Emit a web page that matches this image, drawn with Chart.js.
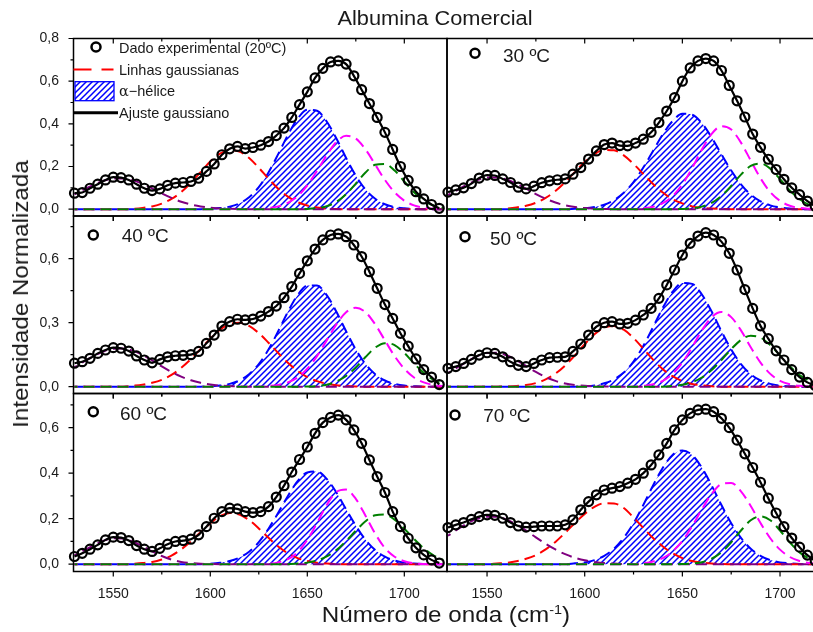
<!DOCTYPE html>
<html>
<head>
<meta charset="utf-8">
<script src="https://cdn.jsdelivr.net/npm/chart.js@4.4.1/dist/chart.umd.min.js"></script>
<style>
  html, body { margin: 0; padding: 0; background: #fff; overflow: hidden; }
  #fig { position: relative; width: 813px; height: 632px; overflow: hidden;
         font-family: 'Liberation Sans', Arial, sans-serif; color: #1a1a1a; }
  #fig canvas { position: absolute; left: 0; top: 0; }
  .txt { position: absolute; white-space: nowrap; line-height: 1; }
  .leg { font-size: 14.5px; transform: translateY(-50%); }
  .temp { font-size: 19px; transform: translateY(-50%); }
  .greek { font-family: 'DejaVu Serif', 'Liberation Serif', serif; }
  .sup { font-size: 0.6em; position: relative; top: -0.6em; }
</style>
</head>
<body>
<div id="fig">
  <canvas id="c20" width="830" height="632"></canvas>
  <canvas id="c30" width="830" height="632"></canvas>
  <canvas id="c40" width="830" height="632"></canvas>
  <canvas id="c50" width="830" height="632"></canvas>
  <canvas id="c60" width="830" height="632"></canvas>
  <canvas id="c70" width="830" height="632"></canvas>

  <div class="txt" style="left:434.5px; top:18px; font-size:20px; transform:translate(-50%,-50%) scaleX(1.09);">Albumina Comercial</div>
  <div class="txt" style="left:21px; top:294px; font-size:22px; transform:translate(-50%,-50%) rotate(-90deg) scaleX(1.1);">Intensidade Normalizada</div>
  <div class="txt" style="left:446px; top:615px; font-size:22px; transform:translate(-50%,-50%) scaleX(1.1);">Número de onda (cm<span class="sup">-1</span>)</div>

  <div class="txt leg" style="left:119px; top:48px;">Dado experimental (20ºC)</div>
  <div class="txt leg" style="left:119px; top:69.5px;">Linhas gaussianas</div>
  <div class="txt leg" style="left:119px; top:91px;"><span class="greek">α</span>−hélice</div>
  <div class="txt leg" style="left:119px; top:113px;">Ajuste gaussiano</div>

  <div class="txt temp" style="left:503px; top:55px;">30 ºC</div>
  <div class="txt temp" style="left:121.7px; top:235px;">40 ºC</div>
  <div class="txt temp" style="left:490px; top:238px;">50 ºC</div>
  <div class="txt temp" style="left:120px; top:412.7px;">60 ºC</div>
  <div class="txt temp" style="left:483.3px; top:415px;">70 ºC</div>
</div>

<script>
// wavenumber grid of the measured spectra (cm-1)
const expX = [1530,1534,1538,1542,1546,1550,1554,1558,1562,1566,1570,1574,1578,1582,1586,1590,
  1594,1598,1602,1606,1610,1614,1618,1622,1626,1630,1634,1638,1642,1646,1650,1654,1658,1662,
  1666,1670,1674,1678,1682,1686,1690,1694,1698,1702,1706,1710,1714,1718];

// wavenumber grid of the fitted gaussian bands
const compX = [1530,1535,1540,1545,1550,1555,1560,1565,1570,1575,1580,1585,1590,
  1595,1600,1605,1610,1615,1620,1625,1630,1635,1640,1645,1650,1655,
  1660,1665,1670,1675,1680,1685,1690,1695,1700,1705,1710,1715,1720];

const xTicks = [1550, 1600, 1650, 1700];
const xMinorTicks = [1575, 1625, 1675];
const yTicksTop = [0, 0.2, 0.4, 0.6, 0.8];
const yMinorTop = [0.1, 0.3, 0.5, 0.7];
const yTicksMid = [0, 0.3, 0.6];
const yMinorMid = [0.15, 0.45, 0.75];
const yTicksBot = [0, 0.2, 0.4, 0.6];
const yMinorBot = [0.1, 0.3, 0.5, 0.7];

// ---- 20 ºC ----
const p20Exp = [0.075,0.078,0.098,0.117,0.137,0.150,0.148,0.137,0.117,0.098,
  0.087,0.095,0.112,0.122,0.125,0.130,0.145,0.177,0.212,0.255,
  0.283,0.294,0.284,0.289,0.300,0.317,0.345,0.380,0.430,0.490,
  0.550,0.615,0.660,0.690,0.695,0.680,0.625,0.560,0.495,0.430,
  0.360,0.280,0.200,0.135,0.082,0.048,0.022,0.004];
const p20Purple = [0.070,0.093,0.115,0.133,0.143,0.144,0.135,0.119,0.097,0.074,0.053,0.035,0.022,
  0.013,0.007,0.003,0.002,0.001,0,0,0,0,0,0,0,0,
  0,0,0,0,0,0,0,0,0,0,0,0,0];
const p20Red = [0,0,0,0,0,0,0.002,0.006,0.013,0.026,0.048,0.080,0.124,
  0.174,0.223,0.260,0.277,0.270,0.240,0.194,0.143,0.096,0.059,0.033,0.017,0.008,
  0.003,0.001,0,0,0,0,0,0,0,0,0,0,0];
const p20Helix = [0,0,0,0,0,0,0,0,0,0,0,0,0,
  0,0.002,0.005,0.012,0.027,0.056,0.103,0.172,0.258,0.348,0.424,0.466,0.461,
  0.411,0.331,0.240,0.157,0.092,0.049,0.023,0.010,0.004,0.001,0,0,0];
const p20Magenta = [0,0,0,0,0,0,0,0,0,0,0,0,0,
  0,0,0,0,0,0,0,0.005,0.013,0.030,0.061,0.112,0.180,
  0.253,0.315,0.344,0.331,0.280,0.209,0.137,0.079,0.040,0.018,0.007,0.002,0];
const p20Green = [0,0,0,0,0,0,0,0,0,0,0,0,0,
  0,0,0,0,0,0,0,0,0,0,0,0.001,0.005,
  0.014,0.034,0.070,0.120,0.172,0.208,0.212,0.181,0.130,0.079,0.040,0.017,0.006];

// ---- 30 ºC ----
const p30Exp = [0.080,0.090,0.100,0.120,0.146,0.160,0.158,0.142,0.125,0.103,
  0.095,0.108,0.124,0.133,0.138,0.142,0.164,0.195,0.235,0.273,
  0.303,0.310,0.298,0.297,0.310,0.328,0.360,0.406,0.460,0.523,
  0.600,0.662,0.695,0.706,0.695,0.650,0.580,0.508,0.432,0.352,
  0.290,0.234,0.186,0.140,0.100,0.068,0.038,0.014];
const p30Purple = [0.066,0.091,0.116,0.136,0.148,0.149,0.139,0.120,0.096,0.071,0.049,0.031,0.018,
  0.010,0.005,0.002,0.001,0,0,0,0,0,0,0,0,0,
  0,0,0,0,0,0,0,0,0,0,0,0,0];
const p30Red = [0,0,0,0,0,0,0.003,0.008,0.016,0.030,0.053,0.085,0.127,
  0.175,0.221,0.258,0.278,0.276,0.252,0.212,0.165,0.118,0.078,0.047,0.027,0.013,
  0.006,0.003,0.001,0,0,0,0,0,0,0,0,0,0];
const p30Helix = [0,0,0,0,0,0,0,0,0,0,0,0,0,
  0.002,0.004,0.010,0.021,0.042,0.077,0.127,0.195,0.273,0.351,0.413,0.447,0.443,
  0.403,0.336,0.257,0.181,0.116,0.068,0.037,0.018,0.008,0.003,0.001,0,0];
const p30Magenta = [0,0,0,0,0,0,0,0,0,0,0,0,0,
  0,0,0,0,0,0,0,0.004,0.011,0.028,0.061,0.116,0.193,
  0.280,0.353,0.389,0.373,0.312,0.228,0.145,0.080,0.039,0.016,0.006,0.002,0];
const p30Green = [0,0,0,0,0,0,0,0,0,0,0,0,0,
  0,0,0,0,0,0,0,0,0,0,0,0.001,0.004,
  0.012,0.029,0.062,0.109,0.162,0.203,0.214,0.190,0.141,0.088,0.047,0.020,0.008];

// ---- 40 ºC ----
const p40Exp = [0.110,0.117,0.133,0.156,0.172,0.183,0.180,0.167,0.144,0.125,
  0.112,0.128,0.140,0.145,0.147,0.150,0.165,0.203,0.242,0.284,
  0.305,0.316,0.313,0.317,0.331,0.352,0.378,0.417,0.469,0.531,
  0.590,0.645,0.688,0.711,0.716,0.703,0.664,0.610,0.539,0.461,
  0.385,0.320,0.250,0.190,0.130,0.080,0.045,0.010];
const p40Purple = [0.090,0.118,0.144,0.165,0.178,0.179,0.169,0.149,0.123,0.095,0.069,0.047,0.030,
  0.018,0.010,0.005,0.003,0.001,0,0,0,0,0,0,0,0,
  0,0,0,0,0,0,0,0,0,0,0,0,0];
const p40Red = [0,0,0,0,0,0,0.004,0.009,0.018,0.032,0.055,0.088,0.129,
  0.177,0.225,0.267,0.293,0.300,0.285,0.251,0.206,0.158,0.112,0.074,0.045,0.026,
  0.014,0.007,0.003,0.001,0,0,0,0,0,0,0,0,0];
const p40Helix = [0,0,0,0,0,0,0,0,0,0,0,0,0,
  0,0.002,0.005,0.013,0.029,0.058,0.106,0.174,0.260,0.351,0.429,0.474,0.474,
  0.429,0.351,0.260,0.174,0.106,0.058,0.029,0.013,0.005,0.002,0,0,0];
const p40Magenta = [0,0,0,0,0,0,0,0,0,0,0,0,0,
  0,0,0,0,0,0,0,0.003,0.008,0.020,0.043,0.084,0.143,
  0.217,0.292,0.349,0.370,0.349,0.292,0.217,0.143,0.084,0.043,0.020,0.008,0.003];
const p40Green = [0,0,0,0,0,0,0,0,0,0,0,0,0,
  0,0,0,0,0,0,0,0,0,0,0,0.001,0.003,
  0.009,0.024,0.050,0.090,0.139,0.183,0.204,0.195,0.158,0.109,0.065,0.032,0.014];

// ---- 50 ºC ----
const p50Exp = [0.086,0.094,0.109,0.128,0.148,0.159,0.156,0.140,0.117,0.100,
  0.094,0.109,0.125,0.136,0.138,0.140,0.165,0.200,0.242,0.281,
  0.300,0.305,0.294,0.297,0.312,0.336,0.367,0.414,0.477,0.547,
  0.617,0.672,0.706,0.722,0.711,0.680,0.625,0.547,0.455,0.367,
  0.285,0.225,0.168,0.125,0.080,0.045,0.020,0.005];
const p50Purple = [0.064,0.091,0.119,0.143,0.158,0.159,0.147,0.125,0.097,0.069,0.045,0.027,0.015,
  0.008,0.004,0.002,0.001,0,0,0,0,0,0,0,0,0,
  0,0,0,0,0,0,0,0,0,0,0,0,0];
const p50Red = [0,0,0,0,0,0,0.001,0.003,0.008,0.017,0.034,0.061,0.099,
  0.147,0.199,0.246,0.277,0.284,0.267,0.228,0.178,0.127,0.082,0.049,0.026,0.013,
  0.006,0.002,0,0,0,0,0,0,0,0,0,0,0];
const p50Helix = [0,0,0,0,0,0,0,0,0,0,0,0,0,
  0,0.002,0.006,0.016,0.034,0.066,0.118,0.191,0.279,0.370,0.445,0.486,0.482,
  0.432,0.352,0.260,0.174,0.106,0.058,0.029,0.013,0.005,0.002,0,0,0];
const p50Magenta = [0,0,0,0,0,0,0,0,0,0,0,0,0,
  0,0,0,0,0,0,0,0.004,0.011,0.027,0.060,0.113,0.185,
  0.264,0.326,0.350,0.326,0.264,0.185,0.113,0.060,0.027,0.011,0.004,0.001,0];
const p50Green = [0,0,0,0,0,0,0,0,0,0,0,0,0,
  0,0,0,0,0,0,0,0,0,0,0.003,0.009,0.021,
  0.043,0.078,0.125,0.176,0.219,0.239,0.230,0.195,0.146,0.096,0.055,0.028,0.013];

// ---- 60 ºC ----
const p60Exp = [0.034,0.048,0.066,0.085,0.107,0.119,0.117,0.104,0.082,0.066,
  0.056,0.070,0.088,0.100,0.104,0.110,0.129,0.165,0.202,0.231,
  0.246,0.243,0.231,0.227,0.231,0.253,0.295,0.345,0.405,0.460,
  0.515,0.575,0.622,0.645,0.655,0.634,0.590,0.531,0.458,0.385,
  0.315,0.231,0.165,0.114,0.072,0.041,0.019,0.005];
const p60Purple = [0.039,0.061,0.083,0.103,0.114,0.113,0.100,0.079,0.056,0.036,0.020,0.010,0.005,
  0.002,0.001,0,0,0,0,0,0,0,0,0,0,0,
  0,0,0,0,0,0,0,0,0,0,0,0,0];
const p60Red = [0,0,0,0,0,0,0.002,0.005,0.010,0.021,0.038,0.065,0.100,
  0.141,0.180,0.211,0.225,0.218,0.194,0.157,0.116,0.078,0.048,0.027,0.014,0.006,
  0.003,0.001,0,0,0,0,0,0,0,0,0,0,0];
const p60Helix = [0,0,0,0,0,0,0,0,0,0,0,0,0,
  0,0.002,0.006,0.014,0.029,0.055,0.097,0.156,0.226,0.300,0.365,0.403,0.407,
  0.375,0.315,0.241,0.169,0.107,0.062,0.033,0.016,0.007,0.003,0.001,0,0];
const p60Magenta = [0,0,0,0,0,0,0,0,0,0,0,0,0,
  0,0,0,0,0,0,0,0.002,0.008,0.022,0.053,0.107,0.181,
  0.260,0.317,0.328,0.287,0.213,0.134,0.071,0.033,0.013,0.004,0.001,0,0];
const p60Green = [0,0,0,0,0,0,0,0,0,0,0,0,0,
  0,0,0,0,0,0,0,0,0,0,0.003,0.007,0.016,
  0.034,0.062,0.102,0.147,0.189,0.215,0.218,0.196,0.156,0.111,0.070,0.039,0.019];

// ---- 70 ºC ----
const p70Exp = [0.161,0.173,0.183,0.197,0.209,0.217,0.215,0.202,0.183,0.168,
  0.163,0.165,0.168,0.168,0.168,0.173,0.195,0.239,0.275,0.305,
  0.326,0.334,0.341,0.356,0.373,0.400,0.436,0.480,0.531,0.590,
  0.634,0.663,0.678,0.681,0.670,0.641,0.600,0.545,0.485,0.425,
  0.360,0.290,0.225,0.165,0.115,0.075,0.040,0.015];
const p70Purple = [0.125,0.154,0.180,0.199,0.209,0.208,0.196,0.175,0.148,0.118,0.090,0.065,0.044,
  0.028,0.017,0.010,0.005,0.003,0.001,0,0,0,0,0,0,0,
  0,0,0,0,0,0,0,0,0,0,0,0,0];
const p70Red = [0,0,0,0,0,0.003,0.006,0.013,0.024,0.040,0.065,0.098,0.138,
  0.181,0.221,0.252,0.268,0.267,0.247,0.205,0.160,0.115,0.078,0.048,0.027,0.014,
  0.007,0.003,0.001,0,0,0,0,0,0,0,0,0,0];
const p70Helix = [0,0,0,0,0,0,0,0,0,0,0,0,0,
  0.004,0.008,0.018,0.037,0.068,0.116,0.180,0.260,0.346,0.424,0.480,0.500,0.480,
  0.424,0.346,0.260,0.180,0.116,0.068,0.037,0.018,0.008,0.004,0.001,0,0];
const p70Magenta = [0,0,0,0,0,0,0,0,0,0,0,0,0,
  0,0,0,0,0,0,0,0.004,0.012,0.027,0.056,0.102,0.167,
  0.241,0.309,0.352,0.357,0.320,0.256,0.181,0.114,0.064,0.032,0.014,0.005,0.002];
const p70Green = [0,0,0,0,0,0,0,0,0,0,0,0,0,
  0,0,0,0,0,0,0,0,0,0,0,0.001,0.003,
  0.009,0.024,0.052,0.096,0.148,0.193,0.210,0.193,0.148,0.096,0.052,0.024,0.009];

// ---------------- layout ----------------
const W = 830, H = 632;
const xMin = 1529.5, xMax = 1722;
const yMin = -0.032;

const panels = [
  { id: 'c20', exp: p20Exp, purple: p20Purple, red: p20Red, helix: p20Helix, magenta: p20Magenta, green: p20Green,
    box: [73.5, 38.5, 447, 216], yMax: 0.8, yTicks: yTicksTop, yMinor: yMinorTop, showY: true, showX: false, dot: [22.5, 8.5], legend: true },
  { id: 'c30', exp: p30Exp, purple: p30Purple, red: p30Red, helix: p30Helix, magenta: p30Magenta, green: p30Green,
    box: [447, 38.5, 823, 216], yMax: 0.8, yTicks: yTicksTop, yMinor: yMinorTop, showY: false, showX: false, dot: [28, 14.8] },
  { id: 'c40', exp: p40Exp, purple: p40Purple, red: p40Red, helix: p40Helix, magenta: p40Magenta, green: p40Green,
    box: [73.5, 216, 447, 393.5], yMax: 0.8, yTicks: yTicksMid, yMinor: yMinorMid, showY: true, showX: false, dot: [19.8, 19] },
  { id: 'c50', exp: p50Exp, purple: p50Purple, red: p50Red, helix: p50Helix, magenta: p50Magenta, green: p50Green,
    box: [447, 216, 823, 393.5], yMax: 0.8, yTicks: yTicksMid, yMinor: yMinorMid, showY: false, showX: false, dot: [18, 20.7] },
  { id: 'c60', exp: p60Exp, purple: p60Purple, red: p60Red, helix: p60Helix, magenta: p60Magenta, green: p60Green,
    box: [73.5, 393.5, 447, 571.5], yMax: 0.75, yTicks: yTicksBot, yMinor: yMinorBot, showY: true, showX: true, dot: [19.8, 18.2] },
  { id: 'c70', exp: p70Exp, purple: p70Purple, red: p70Red, helix: p70Helix, magenta: p70Magenta, green: p70Green,
    box: [447, 393.5, 823, 571.5], yMax: 0.75, yTicks: yTicksBot, yMinor: yMinorBot, showY: false, showX: true, dot: [8, 21.5] },
];

Chart.defaults.font.family = "'Liberation Sans', Arial, sans-serif";
Chart.defaults.font.size = 14;
Chart.defaults.color = '#1a1a1a';

// diagonal blue hatching for the alpha-helix band
const hatch = (() => {
  const c = document.createElement('canvas');
  c.width = 6; c.height = 6;
  const g = c.getContext('2d');
  g.strokeStyle = '#0000ff';
  g.lineWidth = 1.5;
  g.beginPath();
  g.moveTo(-1, 7); g.lineTo(7, -1);
  g.moveTo(-4, 4); g.lineTo(4, -4);
  g.moveTo(2, 10); g.lineTo(10, 2);
  g.stroke();
  return g.createPattern(c, 'repeat');
})();

const pts = (xs, ys) => xs.map((x, i) => ({ x, y: ys[i] }));

const dashed = (ys, color, order, offset) => ({
  data: pts(compX, ys),
  borderColor: color,
  borderWidth: 2,
  borderDash: [11, 6],
  borderDashOffset: offset,
  pointRadius: 0,
  fill: false,
  cubicInterpolationMode: 'monotone',
  order
});

// frame around each panel plus tick marks
const framePlugin = (p) => ({
  id: 'frame',
  afterDatasetsDraw(chart) {
    const { ctx, chartArea: a, scales: { x, y } } = chart;
    ctx.save();
    ctx.strokeStyle = '#000';
    ctx.lineWidth = 1.5;
    ctx.strokeRect(a.left, a.top, a.right - a.left, a.bottom - a.top);
    ctx.lineWidth = 1.2;
    ctx.beginPath();
    const xt = (v, len) => {
      const px = x.getPixelForValue(v);
      ctx.moveTo(px, a.top); ctx.lineTo(px, a.top + len);
      ctx.moveTo(px, a.bottom); ctx.lineTo(px, a.bottom + len);
    };
    xTicks.forEach(v => xt(v, 5));
    xMinorTicks.forEach(v => xt(v, 3));
    if (p.showY) {
      const yt = (v, len) => {
        const py = y.getPixelForValue(v);
        ctx.moveTo(a.left, py); ctx.lineTo(a.left - len, py);
      };
      p.yTicks.forEach(v => yt(v, 5));
      p.yMinor.forEach(v => yt(v, 3));
    }
    ctx.stroke();
    ctx.restore();
  }
});

// legend symbols / temperature marker
const keyPlugin = (p) => ({
  id: 'key',
  afterDraw(chart) {
    const { ctx, chartArea: a } = chart;
    ctx.save();
    ctx.strokeStyle = '#000';
    ctx.lineWidth = 2.5;
    ctx.beginPath();
    ctx.arc(a.left + p.dot[0], a.top + p.dot[1], 4.5, 0, Math.PI * 2);
    ctx.stroke();
    if (p.legend) {
      ctx.lineWidth = 2;
      ctx.strokeStyle = '#ff0000';
      ctx.setLineDash([18, 10]);
      ctx.beginPath();
      ctx.moveTo(a.left, a.top + 31); ctx.lineTo(a.left + 40, a.top + 31);
      ctx.stroke();
      ctx.setLineDash([]);
      ctx.fillStyle = hatch;
      ctx.fillRect(a.left + 1.5, a.top + 43.2, 39, 19);
      ctx.strokeStyle = '#0000ff';
      ctx.lineWidth = 1.3;
      ctx.strokeRect(a.left + 1.5, a.top + 43.2, 39, 19);
      ctx.strokeStyle = '#000';
      ctx.lineWidth = 3;
      ctx.beginPath();
      ctx.moveTo(a.left, a.top + 74.2); ctx.lineTo(a.left + 44.5, a.top + 74.2);
      ctx.stroke();
    }
    ctx.restore();
  }
});

panels.forEach(p => {
  const [left, top, right, bottom] = p.box;
  const axisH = p.showX ? 28 : 0;
  const axisW = p.showY ? left : 0;
  new Chart(document.getElementById(p.id), {
    type: 'line',
    data: {
      datasets: [
        { data: pts(expX, p.exp), showLine: false, pointRadius: 4.5, pointBorderWidth: 2.2,
          pointBorderColor: '#000', pointBackgroundColor: 'rgba(0,0,0,0)', borderColor: '#000', clip: false, order: 0 },
        { data: pts(expX, p.exp), borderColor: '#000', borderWidth: 2.2, pointRadius: 0,
          cubicInterpolationMode: 'monotone', fill: false, order: 1 },
        dashed(p.green, '#008000', 2, 8),
        dashed(p.magenta, '#ff00ff', 3, 8),
        dashed(p.purple, '#800080', 4, 8),
        dashed(p.red, '#ff0000', 5, 8),
        { data: pts(compX, p.helix), borderColor: '#0000ff', borderWidth: 2, borderDash: [11, 6],
          pointRadius: 0, fill: 'origin', backgroundColor: hatch, cubicInterpolationMode: 'monotone', order: 6 }
      ]
    },
    options: {
      responsive: false,
      animation: false,
      events: [],
      layout: { padding: { left: p.showY ? 0 : left, top: top, right: W - right, bottom: H - bottom - axisH } },
      plugins: { legend: { display: false }, tooltip: { enabled: false } },
      scales: {
        x: {
          type: 'linear', min: xMin, max: xMax, display: p.showX,
          grid: { display: false }, border: { display: false },
          afterBuildTicks: s => { s.ticks = xTicks.map(v => ({ value: v })); },
          afterFit: s => { s.height = axisH; },
          ticks: { padding: 6, font: { size: 14 }, callback: v => String(v) }
        },
        y: {
          type: 'linear', min: yMin, max: p.yMax, display: p.showY,
          grid: { display: false }, border: { display: false },
          afterBuildTicks: s => { s.ticks = p.yTicks.map(v => ({ value: v })); },
          afterFit: s => { s.width = axisW; },
          ticks: { padding: 6.5, font: { size: 14 }, callback: v => v.toFixed(1).replace('.', ',') }
        }
      }
    },
    plugins: [framePlugin(p), keyPlugin(p)]
  });
});
</script>
</body>
</html>
